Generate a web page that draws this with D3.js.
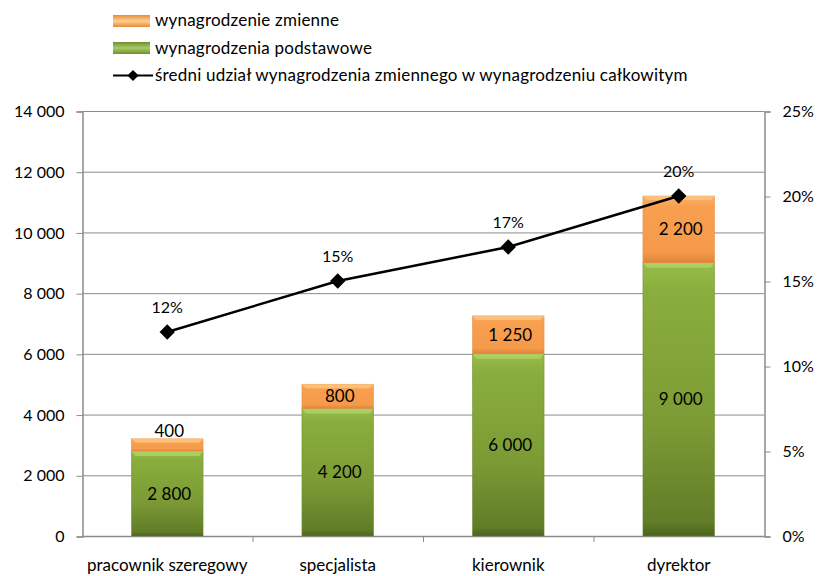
<!DOCTYPE html>
<html>
<head>
<meta charset="utf-8">
<script src="https://cdnjs.cloudflare.com/ajax/libs/d3/7.8.5/d3.min.js"></script>
<style>
  body { margin: 0; background: #fff; }
  text { font-family: Lato, "Open Sans", sans-serif; fill: #000; }
</style>
</head>
<body>
<svg id="chart" width="818" height="576"></svg>
<script>
// data
var categories = ["pracownik szeregowy", "specjalista", "kierownik", "dyrektor"];
var basePay = [2800, 4200, 6000, 9000];
var variablePay = [400, 800, 1250, 2200];
var share = [0.12, 0.15, 0.17, 0.20];
var leftTicks = [0, 2000, 4000, 6000, 8000, 10000, 12000, 14000];
var rightTicks = [0, 0.05, 0.10, 0.15, 0.20, 0.25];
var legendLabels = ["wynagrodzenie zmienne", "wynagrodzenia podstawowe",
  "średni udział wynagrodzenia zmiennego w wynagrodzeniu całkowitym"];

var svg = d3.select("#chart");
var margin = {left: 82, right: 54, top: 111, bottom: 40};
var W = 818, H = 576;

var x = d3.scaleBand().domain(categories).range([margin.left, W - margin.right]).paddingInner(0.58).paddingOuter(0.29);
var xOuter = d3.scaleBand().domain(categories).range([margin.left, W - margin.right]);
var y = d3.scaleLinear().domain([0, 14000]).range([H - margin.bottom, margin.top]);
var y2 = d3.scaleLinear().domain([0, 0.25]).range([H - margin.bottom, margin.top]);

var fmt = function(v) { return d3.format(",")(v).replace(/,/g, " "); };

// gradients
var defs = svg.append("defs");
function addGrad(id, stops) {
  var g = defs.append("linearGradient").attr("id", id).attr("x1", 0).attr("y1", 0).attr("x2", 0).attr("y2", 1);
  stops.forEach(function(s) { g.append("stop").attr("offset", s[0]).attr("stop-color", s[1]); });
}
addGrad("gGreen", [[0, "#98bd4a"], [0.1, "#8aae3d"], [0.6, "#7b9a34"], [0.95, "#617d28"], [1, "#4c641f"]]);
addGrad("gOrange", [[0, "#fbb36a"], [0.15, "#f9a050"], [0.85, "#f49a4a"], [1, "#e0823a"]]);
addGrad("gOrangeLeg", [[0, "#e8893c"], [0.5, "#fcd08f"], [1, "#e8893c"]]);
addGrad("gGreenLeg", [[0, "#6f8f30"], [0.5, "#a9cc66"], [1, "#6f8f30"]]);

// gridlines
svg.append("g").selectAll("line").data(leftTicks.slice(1)).join("line")
  .attr("x1", margin.left).attr("x2", W - margin.right)
  .attr("y1", function(d) { return y(d) + 0.5; }).attr("y2", function(d) { return y(d) + 0.5; })
  .attr("stroke", "#8c8c8c").attr("stroke-width", 1);

// left axis
var gl = svg.append("g").attr("transform", "translate(" + (margin.left + 0.5) + ",0.5)")
  .call(d3.axisLeft(y).tickValues(leftTicks).tickFormat(fmt).tickSize(6).tickPadding(12));
gl.select(".domain").attr("stroke", "#8c8c8c").attr("stroke-width", 1.5);
gl.selectAll(".tick line").attr("stroke", "#8c8c8c");
gl.selectAll(".tick text").style("font-size", "16px").style("font-family", "Lato, sans-serif").attr("fill", "#000");

// right axis
var gr = svg.append("g").attr("transform", "translate(" + (W - margin.right + 0.5) + ",0.5)")
  .call(d3.axisRight(y2).tickValues(rightTicks).tickFormat(d3.format(".0%")).tickSize(6).tickPadding(12));
gr.select(".domain").attr("stroke", "#8c8c8c").attr("stroke-width", 1.5);
gr.selectAll(".tick line").attr("stroke", "#8c8c8c");
gr.selectAll(".tick text").style("font-size", "16px").style("font-family", "Lato, sans-serif").attr("fill", "#000");

// bottom axis
svg.append("line").attr("x1", margin.left).attr("x2", W - margin.right)
  .attr("y1", y(0) + 0.5).attr("y2", y(0) + 0.5).attr("stroke", "#8c8c8c").attr("stroke-width", 1.5);
svg.append("g").selectAll("line").data(categories.slice(1)).join("line")
  .attr("x1", function(d) { return xOuter(d) + 0.5; }).attr("x2", function(d) { return xOuter(d) + 0.5; })
  .attr("y1", y(0)).attr("y2", y(0) + 6).attr("stroke", "#8c8c8c");
svg.append("g").selectAll("text").data(categories).join("text")
  .attr("x", function(d) { return x(d) + x.bandwidth() / 2; })
  .attr("y", y(0) + 35).attr("text-anchor", "middle").style("font-size", "17px").text(function(d) { return d; });

// bars
var bars = svg.append("g");
categories.forEach(function(c, i) {
  var bx = x(c), bw = x.bandwidth();
  var b0 = basePay[i], b1 = basePay[i] + variablePay[i];
  bars.append("rect").attr("x", bx).attr("y", y(b0)).attr("width", bw).attr("height", y(0) - y(b0))
    .attr("fill", "url(#gGreen)").attr("stroke", "#6b8a2c").attr("stroke-width", 0.5);
  bars.append("path").attr("d", "M" + bx + "," + y(b0) + "h" + bw + "l-4,5h" + (-(bw - 8)) + "z")
    .attr("fill", "#b5d86f").attr("opacity", 0.7);
  bars.append("rect").attr("x", bx).attr("y", y(b1)).attr("width", bw).attr("height", y(b0) - y(b1))
    .attr("fill", "url(#gOrange)").attr("stroke", "#e8893c").attr("stroke-width", 0.5);
  bars.append("path").attr("d", "M" + bx + "," + y(b1) + "h" + bw + "l-4,4h" + (-(bw - 8)) + "z")
    .attr("fill", "#fcc685").attr("opacity", 0.8);

  bars.append("text").attr("x", bx + bw / 2 + 2).attr("y", y(b0 / 2) + 6)
    .attr("text-anchor", "middle").style("font-size", "17px").text(fmt(b0));
  var vy = (y(b0) - y(b1)) > 20 ? (y(b1) + y(b0)) / 2 + 6 : y(b1) - 2;
  bars.append("text").attr("x", bx + bw / 2 + 2).attr("y", vy)
    .attr("text-anchor", "middle").style("font-size", "17px").text(fmt(variablePay[i]));
});

// line
var cx = function(i) { return x(categories[i]) + x.bandwidth() / 2; };
svg.append("path").datum(share)
  .attr("d", d3.line().x(function(d, i) { return cx(i); }).y(function(d) { return y2(d); }))
  .attr("fill", "none").attr("stroke", "#000").attr("stroke-width", 2.5);
svg.append("g").selectAll("path").data(share).join("path")
  .attr("d", d3.symbol().type(d3.symbolDiamond2).size(150))
  .attr("transform", function(d, i) { return "translate(" + cx(i) + "," + y2(d) + ")"; })
  .attr("fill", "#000");
svg.append("g").selectAll("text").data(share).join("text")
  .attr("x", function(d, i) { return cx(i); }).attr("y", function(d) { return y2(d) - 19; })
  .attr("text-anchor", "middle").style("font-size", "16px").text(d3.format(".0%"));

// legend
var lg = svg.append("g").attr("transform", "translate(113,0)");
lg.append("rect").attr("x", 0).attr("y", 15).attr("width", 37).attr("height", 12).attr("fill", "url(#gOrangeLeg)");
lg.append("rect").attr("x", 0).attr("y", 42).attr("width", 37).attr("height", 12).attr("fill", "url(#gGreenLeg)");
lg.append("line").attr("x1", 0).attr("x2", 40).attr("y1", 75.5).attr("y2", 75.5).attr("stroke", "#000").attr("stroke-width", 2);
lg.append("path").attr("d", d3.symbol().type(d3.symbolDiamond2).size(80)).attr("transform", "translate(20,75.5)").attr("fill", "#000");
lg.selectAll("text.leg").data(legendLabels).join("text").attr("class", "leg")
  .attr("x", 42).attr("y", function(d, i) { return 26 + i * 27.5; })
  .style("font-size", "17px").style("letter-spacing", "0.2px").text(function(d) { return d; });
</script>
</body>
</html>
